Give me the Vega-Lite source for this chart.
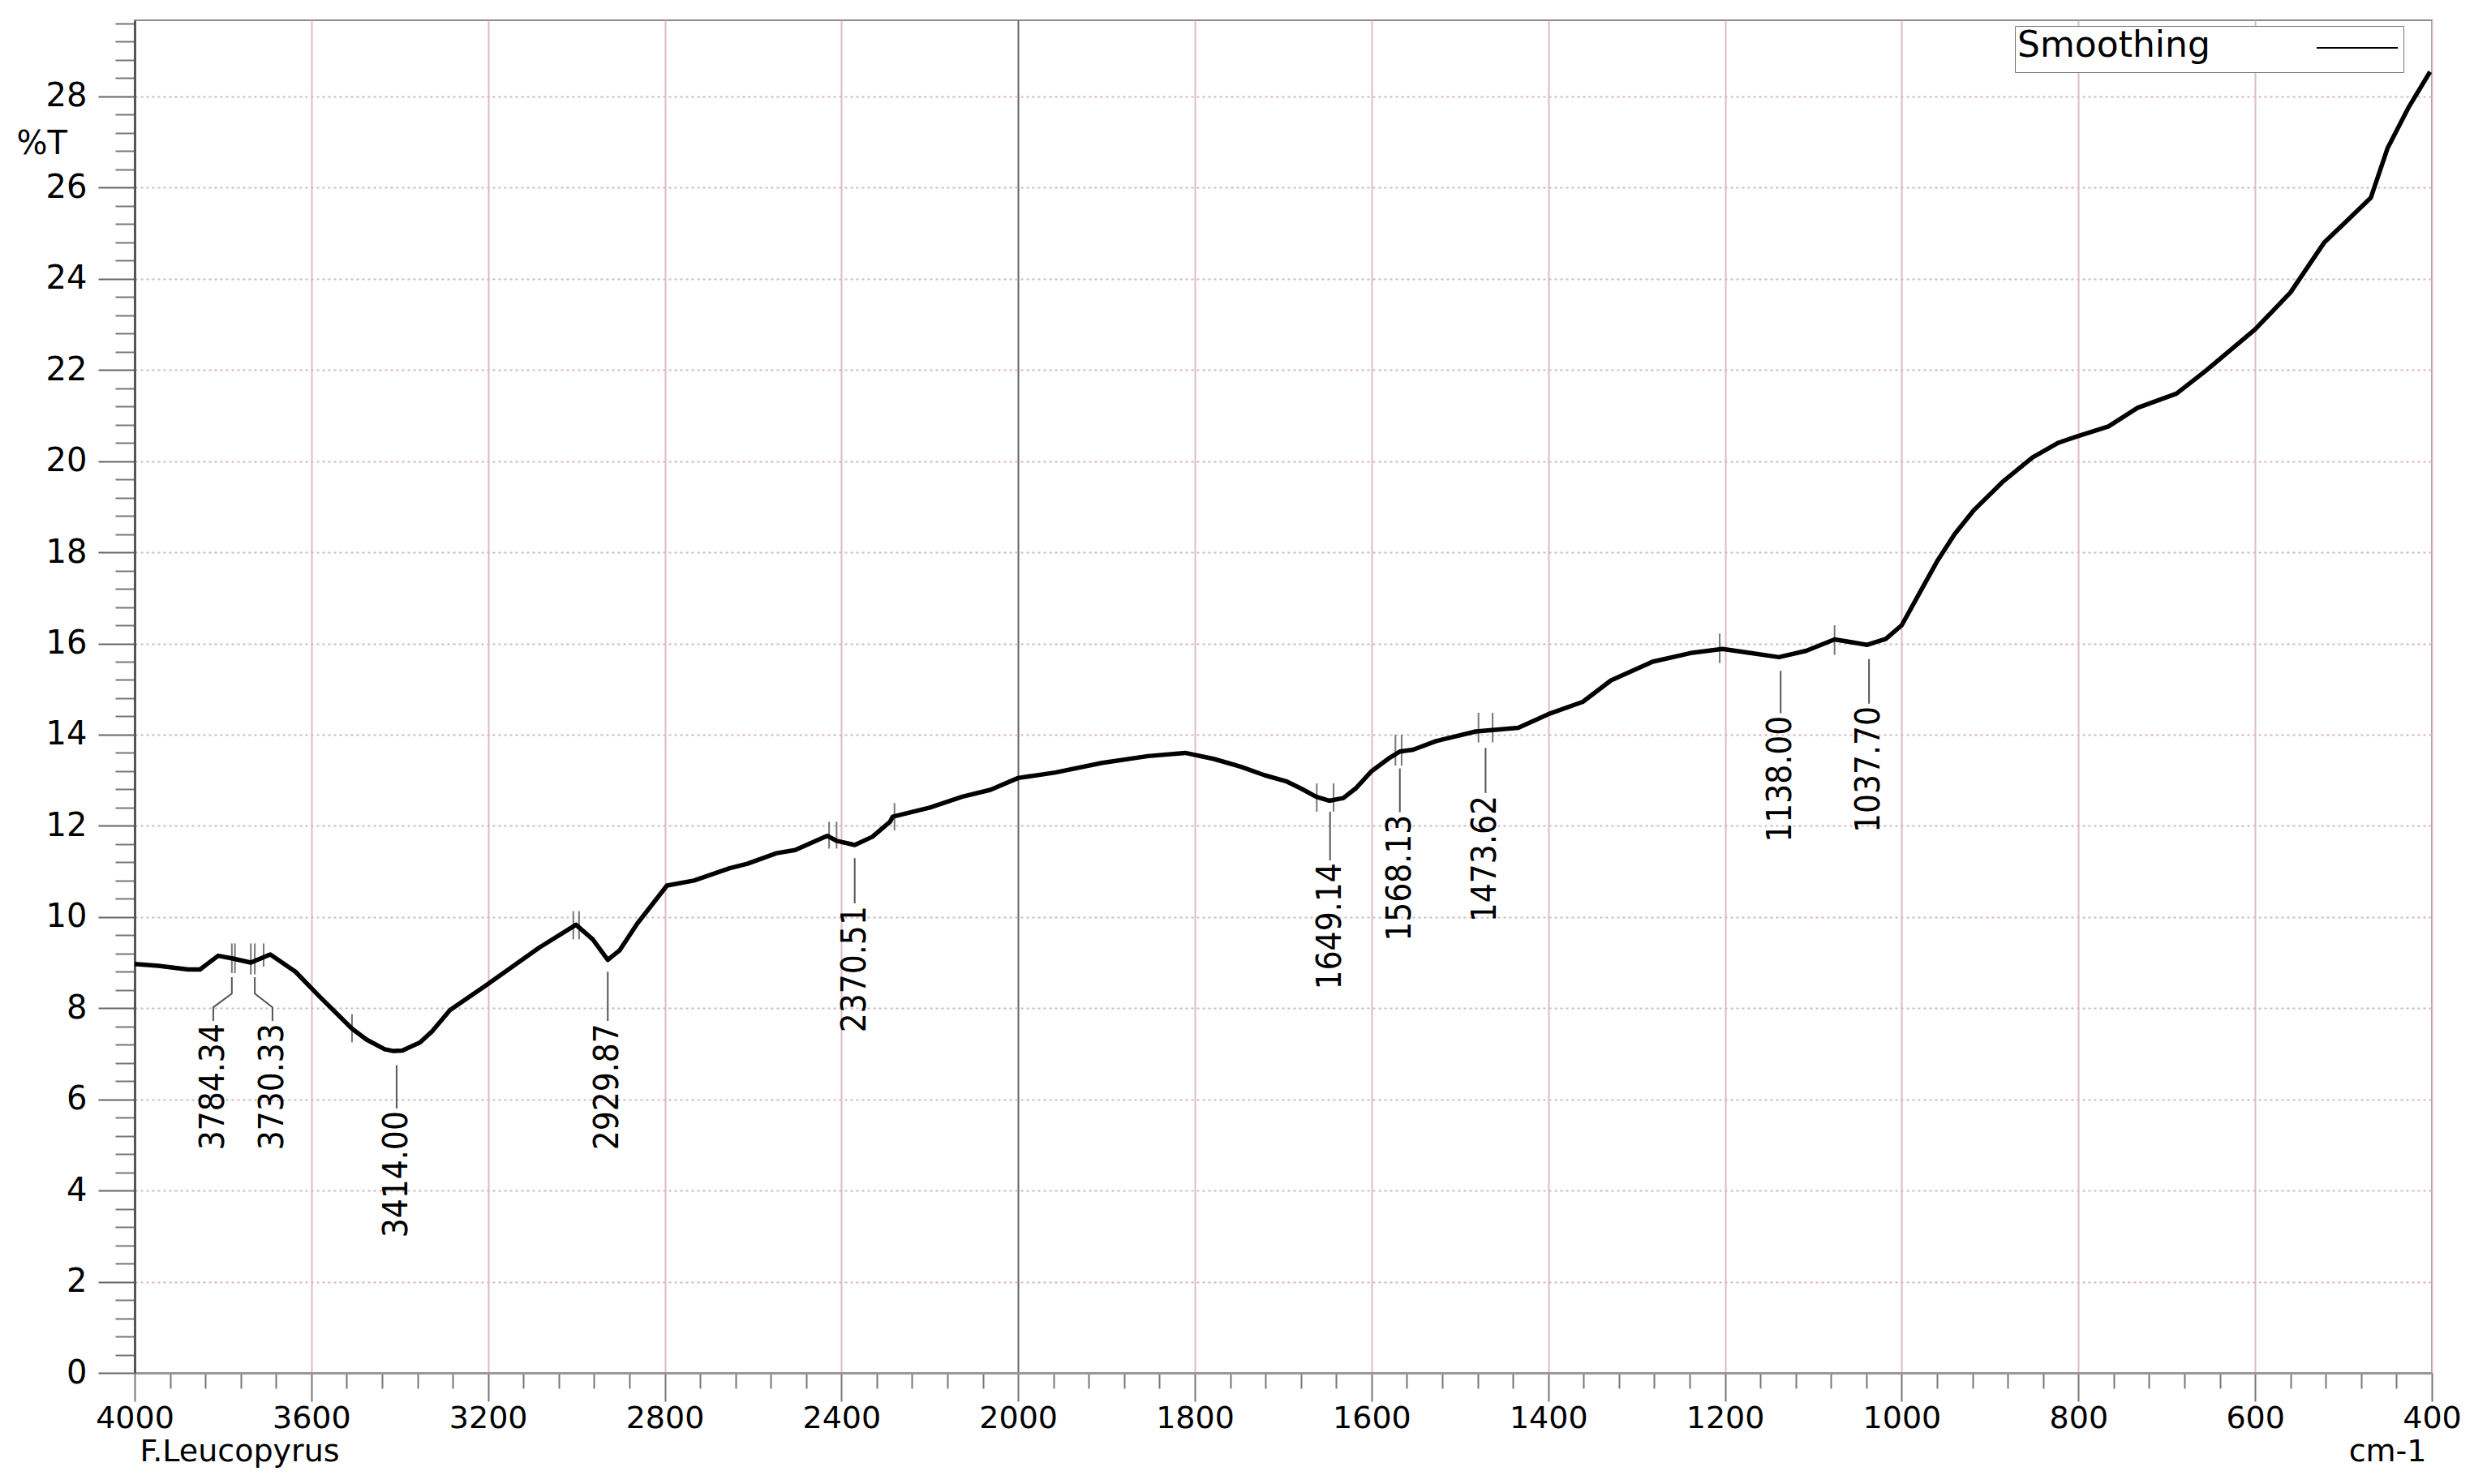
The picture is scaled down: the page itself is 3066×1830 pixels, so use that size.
{
  "$schema": "https://vega.github.io/schema/vega-lite/v6.json",
  "width": 2832,
  "height": 1668,
  "autosize": {"type": "none"},
  "padding": {"left": 166, "top": 25, "right": 68, "bottom": 137},
  "background": "white",
  "config": {"view": {"stroke": "#8a8a8a", "strokeWidth": 2}},
  "datasets": {
    "spec": [
      {"wn": 4000, "T": 8.97}, {"wn": 3946, "T": 8.93}, {"wn": 3879, "T": 8.85}, {"wn": 3852, "T": 8.85},
      {"wn": 3811, "T": 9.15}, {"wn": 3778, "T": 9.09}, {"wn": 3737, "T": 9.0}, {"wn": 3693, "T": 9.18},
      {"wn": 3636, "T": 8.8}, {"wn": 3582, "T": 8.26}, {"wn": 3508, "T": 7.55}, {"wn": 3475, "T": 7.31},
      {"wn": 3434, "T": 7.1}, {"wn": 3414, "T": 7.06},
      {"wn": 3394, "T": 7.07}, {"wn": 3354, "T": 7.25}, {"wn": 3327, "T": 7.49}, {"wn": 3286, "T": 7.96}, {"wn": 3205, "T": 8.5}, {"wn": 3084, "T": 9.33},
      {"wn": 3001, "T": 9.83}, {"wn": 2963, "T": 9.51}, {"wn": 2929, "T": 9.06}, {"wn": 2902, "T": 9.27},
      {"wn": 2862, "T": 9.86}, {"wn": 2795, "T": 10.69}, {"wn": 2734, "T": 10.8}, {"wn": 2653, "T": 11.07},
      {"wn": 2613, "T": 11.17}, {"wn": 2547, "T": 11.4}, {"wn": 2505, "T": 11.47}, {"wn": 2432, "T": 11.78},
      {"wn": 2411, "T": 11.67}, {"wn": 2370, "T": 11.58}, {"wn": 2330, "T": 11.76}, {"wn": 2290, "T": 12.09},
      {"wn": 2284, "T": 12.2}, {"wn": 2200, "T": 12.4}, {"wn": 2126, "T": 12.64}, {"wn": 2063, "T": 12.79},
      {"wn": 2000, "T": 13.05}, {"wn": 1958, "T": 13.17}, {"wn": 1905, "T": 13.38}, {"wn": 1853, "T": 13.53},
      {"wn": 1811, "T": 13.6}, {"wn": 1779, "T": 13.47}, {"wn": 1747, "T": 13.29}, {"wn": 1721, "T": 13.11},
      {"wn": 1697, "T": 12.98}, {"wn": 1680, "T": 12.82}, {"wn": 1663, "T": 12.64}, {"wn": 1648, "T": 12.55},
      {"wn": 1632, "T": 12.61}, {"wn": 1618, "T": 12.82}, {"wn": 1600, "T": 13.2}, {"wn": 1579, "T": 13.5},
      {"wn": 1568, "T": 13.63}, {"wn": 1553, "T": 13.67}, {"wn": 1527, "T": 13.86}, {"wn": 1482, "T": 14.07},
      {"wn": 1434, "T": 14.15}, {"wn": 1400, "T": 14.45}, {"wn": 1361, "T": 14.72}, {"wn": 1329, "T": 15.19},
      {"wn": 1282, "T": 15.6}, {"wn": 1239, "T": 15.79}, {"wn": 1203, "T": 15.88}, {"wn": 1171, "T": 15.79},
      {"wn": 1139, "T": 15.7}, {"wn": 1108, "T": 15.84}, {"wn": 1076, "T": 16.09}, {"wn": 1039, "T": 15.97},
      {"wn": 1018, "T": 16.1}, {"wn": 1000, "T": 16.4}, {"wn": 980, "T": 17.1}, {"wn": 960, "T": 17.8},
      {"wn": 940, "T": 18.4}, {"wn": 919, "T": 18.91}, {"wn": 886, "T": 19.54}, {"wn": 852, "T": 20.08},
      {"wn": 823, "T": 20.4}, {"wn": 800, "T": 20.55}, {"wn": 766, "T": 20.76}, {"wn": 733, "T": 21.17},
      {"wn": 689, "T": 21.48}, {"wn": 656, "T": 21.98}, {"wn": 600, "T": 22.89}, {"wn": 560, "T": 23.7},
      {"wn": 522, "T": 24.79}, {"wn": 493, "T": 25.33}, {"wn": 469, "T": 25.78}, {"wn": 450, "T": 26.87},
      {"wn": 426, "T": 27.77}, {"wn": 402, "T": 28.54}
    ],
    "markers": [
      {"wn": 3780, "t1": 8.77, "t2": 9.42}, {"wn": 3773, "t1": 8.77, "t2": 9.42},
      {"wn": 3737, "t1": 8.74, "t2": 9.42}, {"wn": 3728, "t1": 8.74, "t2": 9.42},
      {"wn": 3708, "t1": 8.91, "t2": 9.42}, {"wn": 3508, "t1": 7.25, "t2": 7.87},
      {"wn": 3007, "t1": 9.51, "t2": 10.13}, {"wn": 2994, "t1": 9.51, "t2": 10.13},
      {"wn": 2428, "t1": 11.5, "t2": 12.09}, {"wn": 2411, "t1": 11.5, "t2": 12.09},
      {"wn": 2280, "t1": 11.9, "t2": 12.5}, {"wn": 1662, "t1": 12.31, "t2": 12.93},
      {"wn": 1643, "t1": 12.31, "t2": 12.93}, {"wn": 1573, "t1": 13.32, "t2": 14.0},
      {"wn": 1566, "t1": 13.32, "t2": 14.0}, {"wn": 1479, "t1": 13.83, "t2": 14.48},
      {"wn": 1463, "t1": 13.83, "t2": 14.48}, {"wn": 1206, "t1": 15.57, "t2": 16.22},
      {"wn": 1076, "t1": 15.75, "t2": 16.4}
    ],
    "leaders": [
      {"id": "a", "o": 1, "wn": 3780, "T": 8.68}, {"id": "a", "o": 2, "wn": 3780, "T": 8.32},
      {"id": "a", "o": 3, "wn": 3822, "T": 8.02}, {"id": "a", "o": 4, "wn": 3822, "T": 7.72},
      {"id": "b", "o": 1, "wn": 3728, "T": 8.68}, {"id": "b", "o": 2, "wn": 3728, "T": 8.32},
      {"id": "b", "o": 3, "wn": 3688, "T": 8.02}, {"id": "b", "o": 4, "wn": 3688, "T": 7.72},
      {"id": "c", "o": 1, "wn": 3407, "T": 6.75}, {"id": "c", "o": 2, "wn": 3407, "T": 5.8},
      {"id": "d", "o": 1, "wn": 2929, "T": 8.8}, {"id": "d", "o": 2, "wn": 2929, "T": 7.72},
      {"id": "e", "o": 1, "wn": 2370, "T": 11.29}, {"id": "e", "o": 2, "wn": 2370, "T": 10.3},
      {"id": "f", "o": 1, "wn": 1647, "T": 12.31}, {"id": "f", "o": 2, "wn": 1647, "T": 11.24},
      {"id": "g", "o": 1, "wn": 1568, "T": 13.26}, {"id": "g", "o": 2, "wn": 1568, "T": 12.3},
      {"id": "h", "o": 1, "wn": 1471, "T": 13.71}, {"id": "h", "o": 2, "wn": 1471, "T": 12.72},
      {"id": "i", "o": 1, "wn": 1137, "T": 15.4}, {"id": "i", "o": 2, "wn": 1137, "T": 14.47},
      {"id": "j", "o": 1, "wn": 1037, "T": 15.66}, {"id": "j", "o": 2, "wn": 1037, "T": 14.68}
    ],
    "labels": [
      {"label": "3784.34", "wn": 3822, "T": 7.7}, {"label": "3730.33", "wn": 3688, "T": 7.7},
      {"label": "3414.00", "wn": 3407, "T": 5.78}, {"label": "2929.87", "wn": 2929, "T": 7.7},
      {"label": "2370.51", "wn": 2370, "T": 10.28}, {"label": "1649.14", "wn": 1647, "T": 11.22},
      {"label": "1568.13", "wn": 1568, "T": 12.28}, {"label": "1473.62", "wn": 1471, "T": 12.7},
      {"label": "1138.00", "wn": 1137, "T": 14.45}, {"label": "1037.70", "wn": 1037, "T": 14.66}
    ]
  },
  "layer": [
    {
      "data": {"name": "markers"},
      "mark": {"type": "rule", "color": "#777777", "strokeWidth": 2},
      "encoding": {
        "x": {"field": "wn", "type": "quantitative",
          "scale": {"domain": [4000, 2000, 400], "range": [0, 1089.2, 2832], "nice": false, "zero": false},
          "axis": {"orient": "bottom", "format": "d",
            "values": [3920,3840,3760,3680,3520,3440,3360,3280,3120,3040,2960,2880,2720,2640,2560,2480,2320,2240,2160,2080,1960,1920,1880,1840,1760,1720,1680,1640,1560,1520,1480,1440,1360,1320,1280,1240,1160,1120,1080,1040,960,920,880,840,760,720,680,640,560,520,480,440],
            "labels": false, "grid": false, "domain": false, "tickSize": 19, "tickColor": "#777777", "tickWidth": 2,
            "title": "cm-1", "titleX": 2825, "titleY": 97, "titleAlign": "right", "titleBaseline": "middle", "titleAngle": 0,
            "titleFont": "DejaVu Sans", "titleFontSize": 38, "titleFontWeight": "normal", "titleColor": "black"}},
        "y": {"field": "t1", "type": "quantitative",
          "scale": {"domain": [0, 29.67], "nice": false, "zero": true},
          "axis": {"orient": "left",
            "values": [0.4,0.8,1.2,1.6,2.4,2.8,3.2,3.6,4.4,4.8,5.2,5.6,6.4,6.8,7.2,7.6,8.4,8.8,9.2,9.6,10.4,10.8,11.2,11.6,12.4,12.8,13.2,13.6,14.4,14.8,15.2,15.6,16.4,16.8,17.2,17.6,18.4,18.8,19.2,19.6,20.4,20.8,21.2,21.6,22.4,22.8,23.2,23.6,24.4,24.8,25.2,25.6,26.4,26.8,27.2,27.6,28.4,28.8,29.2,29.6],
            "labels": false, "grid": false, "domain": false, "tickSize": 24, "tickColor": "#777777", "tickWidth": 2, "title": null}},
        "y2": {"field": "t2"}
      }
    },
    {
      "data": {"name": "spec"},
      "mark": {"type": "line", "strokeWidth": 5.5, "strokeJoin": "round"},
      "encoding": {
        "x": {"field": "wn", "type": "quantitative",
          "axis": {"orient": "bottom", "format": "d",
            "values": [4000,3600,3200,2800,2400,2000,1800,1600,1400,1200,1000,800,600,400],
            "grid": true, "gridWidth": 2,
            "gridColor": {"condition": {"test": "datum.value === 2000", "value": "#666666"}, "value": "#dfbac8"},
            "tickSize": 35, "tickColor": "#777777", "tickWidth": 2,
            "domainColor": "#999999", "domainWidth": 3,
            "labelFont": "DejaVu Sans", "labelFontSize": 38, "labelColor": "black", "labelPadding": 2,
            "labelFlush": false, "labelOverlap": false,
            "title": "F.Leucopyrus", "titleX": 6, "titleY": 97, "titleAlign": "left", "titleBaseline": "middle", "titleAngle": 0,
            "titleFont": "DejaVu Sans", "titleFontSize": 38, "titleFontWeight": "normal", "titleColor": "black"}},
        "y": {"field": "T", "type": "quantitative",
          "axis": {"orient": "left",
            "values": [0,2,4,6,8,10,12,14,16,18,20,22,24,26,28],
            "grid": true, "gridWidth": 2, "gridDash": [3, 4], "gridColor": "#d9b3c2",
            "tickSize": 45, "tickColor": "#666666", "tickWidth": 2,
            "domainColor": "#555555", "domainWidth": 3,
            "labelFont": "DejaVu Sans", "labelFontSize": 40, "labelColor": "black", "labelPadding": 14,
            "labelFlush": false, "labelOverlap": false,
            "title": "%T", "titleAngle": 0, "titleX": -146, "titleY": 152, "titleAlign": "left", "titleBaseline": "middle",
            "titleFont": "DejaVu Sans", "titleFontSize": 40, "titleFontWeight": "normal", "titleColor": "black"}},
        "order": {"field": "wn", "type": "quantitative", "sort": "descending"},
        "color": {"datum": "Smoothing", "type": "nominal",
          "scale": {"range": ["#000000"]},
          "legend": {"title": "Smoothing", "titleOrient": "left", "titleAngle": 0, "titleAnchor": "start", "orient": "none",
            "legendX": 2318, "legendY": 7, "strokeColor": "#777777", "fillColor": "white", "padding": 3,
            "titleFont": "DejaVu Sans", "titleFontSize": 44, "titleFontWeight": "normal", "titleColor": "black",
            "titlePadding": 130, "titleBaseline": "top", "titleLimit": 2000,
            "symbolType": "stroke", "symbolSize": 10000, "labelExpr": "''", "labelOffset": 0, "labelFontSize": 1,
            "encode": {"symbols": {"update": {"y": {"value": 24}, "stroke": {"value": "#999999"}, "strokeWidth": {"value": 2}}}}}}
      }
    },
    {
      "data": {"name": "leaders"},
      "mark": {"type": "line", "color": "#555555", "strokeWidth": 2},
      "encoding": {
        "x": {"field": "wn", "type": "quantitative", "axis": null},
        "y": {"field": "T", "type": "quantitative", "axis": null},
        "detail": {"field": "id", "type": "nominal"},
        "order": {"field": "o", "type": "quantitative"}
      }
    },
    {
      "data": {"name": "labels"},
      "mark": {"type": "text", "angle": 270, "align": "right", "baseline": "middle",
        "font": "Liberation Sans Narrow, DejaVu Sans Condensed, Liberation Sans", "fontSize": 42, "color": "black", "dx": -2},
      "encoding": {
        "x": {"field": "wn", "type": "quantitative", "axis": null},
        "y": {"field": "T", "type": "quantitative", "axis": null},
        "text": {"field": "label", "type": "nominal"}
      }
    }
  ],
  "resolve": {"axis": {"x": "independent", "y": "independent"}}
}
